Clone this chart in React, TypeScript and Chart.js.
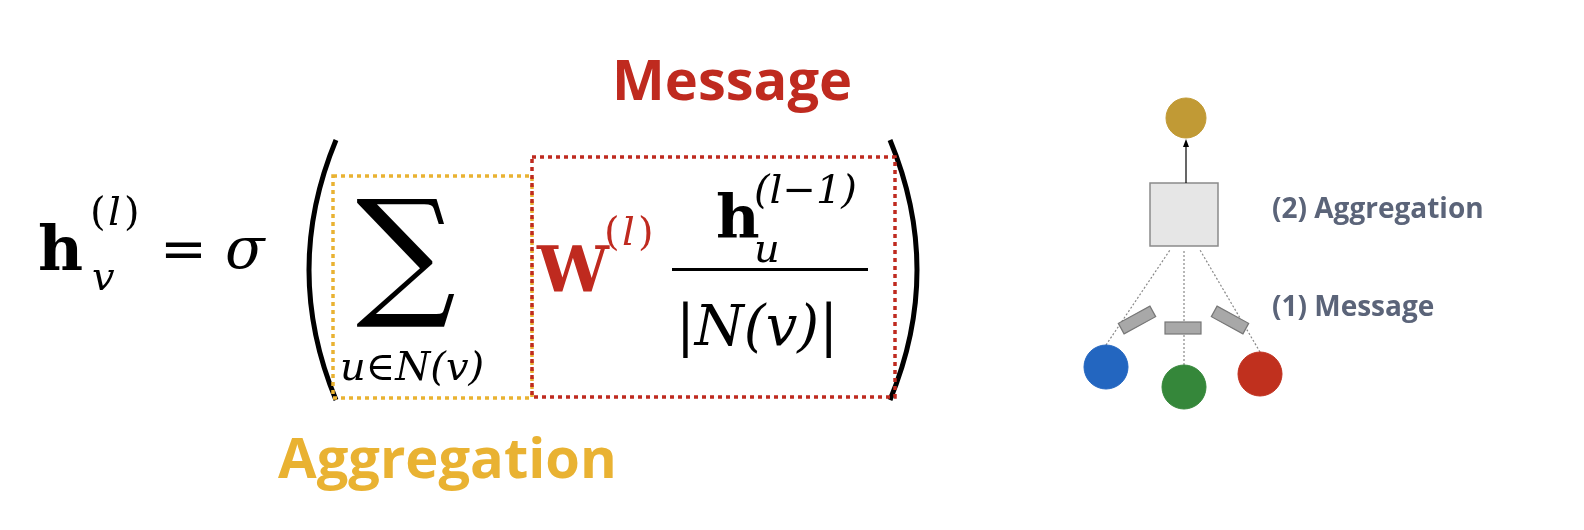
import { Chart, registerables } from 'chart.js';
import { useEffect, useRef } from 'react';

Chart.register(...registerables);

// graph nodes (layout coordinates of the diagram)
const nodeNames = ['target', 'u1', 'u2', 'u3'];
const nodeX = [1186, 1106, 1184, 1260];
const nodeY = [118, 367, 387, 374];
const nodeColors = ['#c19a35', '#2366c0', '#35873a', '#c0301e'];
const nodeRadius = [20, 22, 22, 22];

const stepLabels = ['(2) Aggregation', '(1) Message'];
const titleLabels = ['Message', 'Aggregation'];

const RED = '#bf2a1f';
const ORANGE = '#e9b232';
const SERIF = '"DejaVu Serif", "Liberation Serif", serif';
const SANS = '"Open Sans", "Noto Sans", sans-serif';

const diagramPlugin = {
  id: 'diagram',
  beforeDatasetsDraw(chart: Chart) {
    const { ctx } = chart;
    const sx = chart.scales.x;
    const sy = chart.scales.y;
    const X = (v: number) => sx.getPixelForValue(v);
    const Y = (v: number) => sy.getPixelForValue(v);
    ctx.save();

    // aggregation box
    ctx.fillStyle = '#e6e6e6';
    ctx.strokeStyle = '#8a8a8a';
    ctx.lineWidth = 1.5;
    ctx.fillRect(X(1150), Y(183), 68, 63);
    ctx.strokeRect(X(1150), Y(183), 68, 63);

    // arrow box -> target
    ctx.strokeStyle = '#000';
    ctx.lineWidth = 1.2;
    ctx.beginPath();
    ctx.moveTo(X(1186), Y(183));
    ctx.lineTo(X(1186), Y(142));
    ctx.stroke();
    ctx.beginPath();
    ctx.moveTo(X(1186), Y(139));
    ctx.lineTo(X(1183), Y(147));
    ctx.lineTo(X(1189), Y(147));
    ctx.closePath();
    ctx.fillStyle = '#000';
    ctx.fill();

    // dotted edges from neighbours to box
    const ends = [1170, 1184, 1200];
    ctx.strokeStyle = '#888';
    ctx.setLineDash([2, 2]);
    for (let i = 1; i < 4; i++) {
      ctx.beginPath();
      ctx.moveTo(X(nodeX[i]), Y(nodeY[i] - nodeRadius[i]));
      ctx.lineTo(X(ends[i - 1]), Y(250));
      ctx.stroke();
    }
    ctx.setLineDash([]);
    // message rectangles
    const rects = [[1137, 320, -0.5], [1183, 328, 0], [1230, 320, 0.5]];
    ctx.fillStyle = '#a8a8a8';
    ctx.strokeStyle = '#777';
    rects.forEach(([cx, cy, a]) => {
      ctx.save();
      ctx.translate(X(cx), Y(cy));
      ctx.rotate(a);
      ctx.fillRect(-18, -6, 36, 12);
      ctx.strokeRect(-18, -6, 36, 12);
      ctx.restore();
    });

    ctx.fillStyle = '#5b6479';
    ctx.font = `bold 28px ${SANS}`;
    ctx.textBaseline = 'alphabetic';
    ctx.fillText(stepLabels[0], X(1272), Y(218));
    ctx.fillText(stepLabels[1], X(1272), Y(316));

    // ---- formula ----
    ctx.fillStyle = '#000';
    ctx.font = `bold 62px ${SERIF}`;
    ctx.fillText('h', X(38), Y(270));
    ctx.font = `40px ${SERIF}`;
    ctx.fillText('(', X(90), Y(225));
    ctx.fillText(')', X(124), Y(225));
    ctx.font = `italic 40px ${SERIF}`;
    ctx.fillText('l', X(108), Y(225));
    ctx.fillText('v', X(92), Y(290));
    ctx.font = `56px ${SERIF}`;
    ctx.fillText('=', X(160), Y(268));
    ctx.font = `italic 58px ${SERIF}`;
    ctx.fillText('σ', X(225), Y(268));

    // big parentheses
    ctx.strokeStyle = '#000';
    ctx.lineWidth = 5;
    ctx.beginPath();
    ctx.moveTo(X(336), Y(140));
    ctx.quadraticCurveTo(X(282), Y(270), X(336), Y(400));
    ctx.stroke();
    ctx.beginPath();
    ctx.moveTo(X(890), Y(140));
    ctx.quadraticCurveTo(X(944), Y(270), X(890), Y(400));
    ctx.stroke();

    // sum
    ctx.font = `140px ${SERIF}`;
    ctx.fillText('∑', X(356), Y(300));
    ctx.font = `italic 40px ${SERIF}`;
    ctx.fillText('u∈N(v)', X(340), Y(380));

    // W(l)
    ctx.fillStyle = RED;
    ctx.font = `bold 64px ${SERIF}`;
    ctx.fillText('W', X(537), Y(292));
    ctx.font = `40px ${SERIF}`;
    ctx.fillText('(', X(604), Y(245));
    ctx.fillText(')', X(638), Y(245));
    ctx.font = `italic 40px ${SERIF}`;
    ctx.fillText('l', X(622), Y(245));

    // fraction
    ctx.fillStyle = '#000';
    ctx.font = `bold 60px ${SERIF}`;
    ctx.fillText('h', X(716), Y(238));
    ctx.font = `italic 40px ${SERIF}`;
    ctx.fillText('(l−1)', X(754), Y(203));
    ctx.fillText('u', X(754), Y(262));
    ctx.fillRect(X(672), Y(268), 196, 3);
    ctx.font = `italic 56px ${SERIF}`;
    ctx.fillText('|N(v)|', X(676), Y(345));

    // dotted boxes
    ctx.lineWidth = 3.5;
    ctx.setLineDash([4, 4]);
    ctx.strokeStyle = ORANGE;
    ctx.strokeRect(X(333), Y(176), 199, 222);
    ctx.strokeStyle = RED;
    ctx.strokeRect(X(532), Y(157), 363, 240);
    ctx.setLineDash([]);

    // titles
    ctx.font = `bold 56px ${SANS}`;
    ctx.fillStyle = RED;
    ctx.fillText(titleLabels[0], X(612), Y(100));
    ctx.fillStyle = ORANGE;
    ctx.fillText(titleLabels[1], X(278), Y(478));

    ctx.restore();
  },
};

export default function App() {
  const ref = useRef<HTMLCanvasElement>(null);
  useEffect(() => {
    document.body.style.margin = '0';
    if (!ref.current) return;
    const chart = new Chart(ref.current, {
      type: 'scatter',
      data: {
        labels: nodeNames,
        datasets: [
          {
            data: nodeX.map((x, i) => ({ x, y: nodeY[i] })),
            pointBackgroundColor: nodeColors,
            pointBorderColor: nodeColors,
            pointRadius: nodeRadius,
          },
        ],
      },
      options: {
        animation: false,
        responsive: true,
        maintainAspectRatio: false,
        layout: { padding: 0, autoPadding: false },
        scales: {
          x: { type: 'linear', min: 0, max: 1584, display: false },
          y: { type: 'linear', min: 0, max: 530, reverse: true, display: false },
        },
        plugins: { legend: { display: false }, tooltip: { enabled: false } },
      },
      plugins: [diagramPlugin],
    });
    return () => chart.destroy();
  }, []);
  return (
    <div style={{ width: 1584, height: 530, background: '#fff' }}>
      <canvas ref={ref} />
    </div>
  );
}
